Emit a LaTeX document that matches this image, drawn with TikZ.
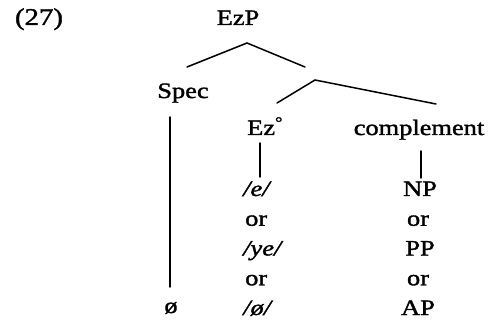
\documentclass[tikz,border=0pt]{standalone}
\usepackage{fontspec}
\setmainfont{Liberation Serif}[FakeStretch=1.2,FakeBold=1.5]
\begin{document}
\begin{tikzpicture}[x=1pt,y=-1pt,
  lbl/.style={inner sep=0pt,anchor=base,font=\fontsize{22}{26}\selectfont},
  lblw/.style={lbl,anchor=base west},
  branch/.style={line width=1.5pt,line cap=round}]
\useasboundingbox[fill=white] (0,0) rectangle (492,320);
% labels
\node[lbl,font=\fontsize{24}{28}\selectfont] (num) at (39,25) {(27)};
\node[lbl] (ezp) at (238,25) {EzP};
\node[lbl] (spec) at (183,98) {Spec};
\node[lblw] (ez) at (247,135) {Ez\textsuperscript{°}};
\node[lbl] (comp) at (419,135) {complement};
% Ez column
\node[lblw] (e1) at (243,196) {\itshape /e/};
\node[lblw] (e2) at (245,225.75) {or};
\node[lblw] (e3) at (243,255.5) {\itshape /ye/};
\node[lblw] (e4) at (245,285.25) {or};
\node[lblw] (e5) at (243,315) {\itshape /ø/};
% complement column
\node[lbl] (c1) at (420,196) {NP};
\node[lbl] (c2) at (418,225.75) {or};
\node[lbl] (c3) at (420,255.5) {PP};
\node[lbl] (c4) at (418,285.25) {or};
\node[lbl] (c5) at (418,315) {AP};
% spec value
\node[lbl] (null) at (171,313) {ø};
% branch points
\coordinate (ezpb) at (247,43);
\coordinate (spect) at (187,67);
\coordinate (bart) at (305,67);
\coordinate (barb) at (315,80);
\coordinate (ezt) at (277,103);
\coordinate (compt) at (436,104);
\coordinate (specb) at (170,117);
\coordinate (nullt) at (170,287);
\coordinate (ezb) at (260,143);
\coordinate (e1t) at (260,177);
\coordinate (compb) at (421,151);
\coordinate (c1t) at (421,178);
% connectors
\draw[branch] (spect) -- (ezpb) -- (bart);
\draw[branch] (ezt) -- (barb) -- (compt);
\draw[branch] (specb) -- (nullt);
\draw[branch] (ezb) -- (e1t);
\draw[branch] (compb) -- (c1t);
\end{tikzpicture}
\end{document}
